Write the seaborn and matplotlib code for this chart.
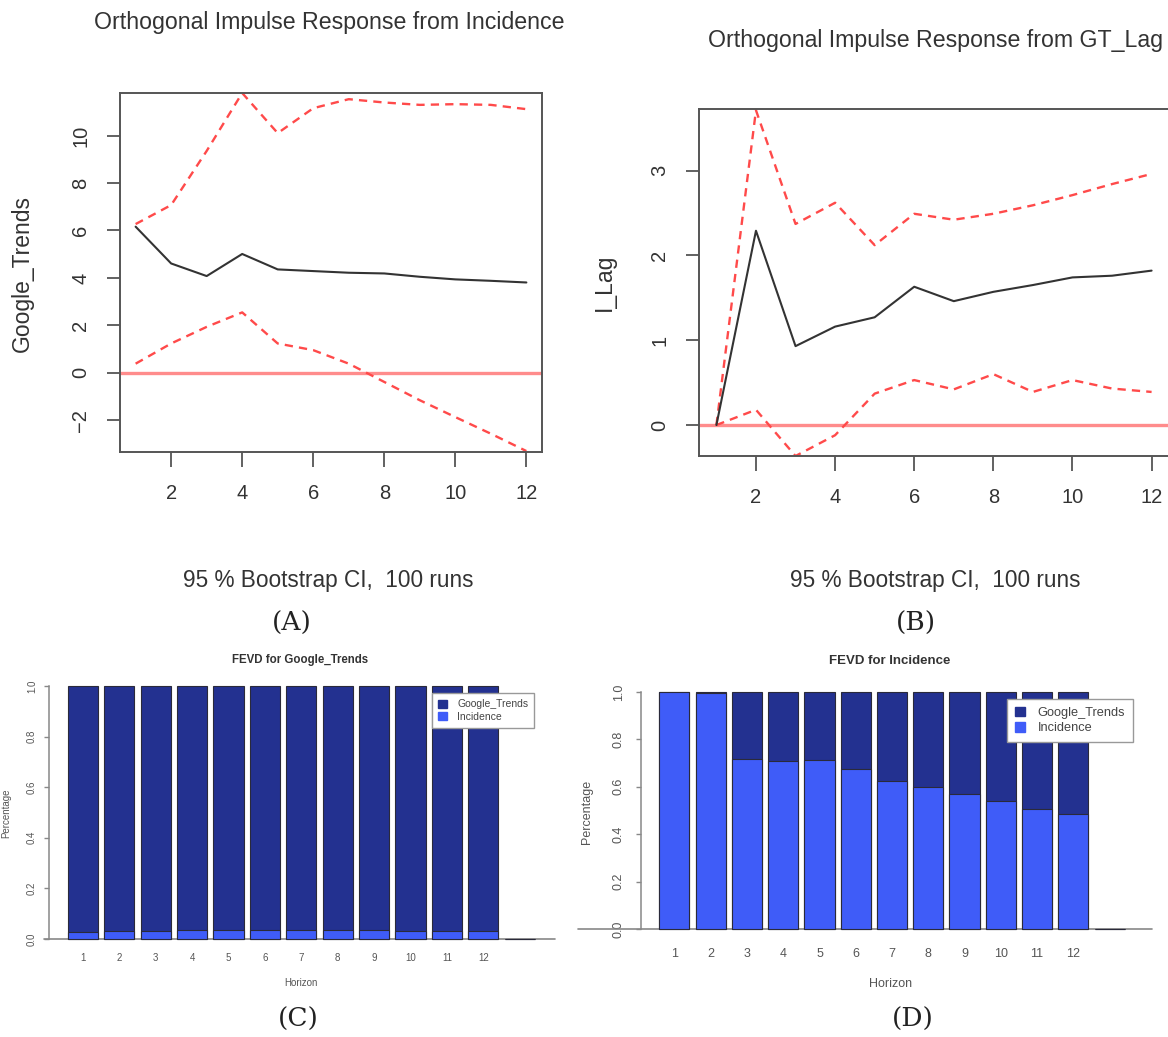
import numpy as np
import pandas as pd
import matplotlib
matplotlib.use("Agg")
import matplotlib.pyplot as plt
import seaborn as sns
from matplotlib.patches import Patch

# ---------------- data ----------------
horizon = [1, 2, 3, 4, 5, 6, 7, 8, 9, 10, 11, 12]

irf_a_mid = [6.16, 4.61, 4.08, 5.01, 4.36, 4.29, 4.22, 4.19, 4.05, 3.94, 3.88, 3.81]
irf_a_upper = [6.27, 7.07, 9.35, 11.79, 10.10, 11.15, 11.53, 11.39, 11.29, 11.32, 11.29, 11.11]
irf_a_lower = [0.39, 1.24, 1.94, 2.55, 1.24, 0.96, 0.39, -0.38, -1.15, -1.86, -2.56, -3.29]

irf_b_mid = [0.0, 2.29, 0.93, 1.16, 1.27, 1.63, 1.46, 1.57, 1.65, 1.74, 1.76, 1.82]
irf_b_upper = [0.0, 3.71, 2.37, 2.62, 2.12, 2.49, 2.42, 2.49, 2.59, 2.71, 2.84, 2.96]
irf_b_lower = [0.0, 0.18, -0.365, -0.12, 0.37, 0.53, 0.42, 0.60, 0.39, 0.53, 0.43, 0.39]

fevd_labels = ["1", "2", "3", "4", "5", "6", "7", "8", "9", "10", "11", "12"]
legend_slot = [""]          # empty 13th slot R leaves for the legend
fevd_c_incidence = [0.028, 0.031, 0.033, 0.035, 0.035, 0.035, 0.035, 0.034, 0.034, 0.033, 0.032, 0.032]
fevd_c_google = [0.972, 0.969, 0.967, 0.965, 0.965, 0.965, 0.965, 0.966, 0.966, 0.967, 0.968, 0.968]
fevd_d_incidence = [1.0, 0.996, 0.716, 0.707, 0.712, 0.674, 0.623, 0.599, 0.571, 0.539, 0.508, 0.484]
fevd_d_google = [0.0, 0.004, 0.284, 0.293, 0.288, 0.326, 0.377, 0.401, 0.429, 0.461, 0.492, 0.516]

series_names = ["Google_Trends", "Incidence"]

# ---------------- style ----------------
sns.set_style("white")
plt.rcParams["font.family"] = ["Liberation Sans", "DejaVu Sans"]

W, H = 1168, 1037
fig = plt.figure(figsize=(W / 100, H / 100), dpi=100)


def add_ax(L, T, R, B):
    return fig.add_axes([L / W, 1 - B / H, (R - L) / W, (B - T) / H])


def ftext(x, y, s, **kw):
    fig.text(x / W, 1 - y / H, s, ha="center", va="center", **kw)


DARK = "#233190"
LIGHT = "#3f5cf8"
RED_CI = "#ff4a4a"
RED_ZERO = "#ff8c8c"
BOX = "#555555"
TXT = "#333333"


def irf_panel(ax, mid, up, lo, ylim, yticks):
    df = pd.DataFrame({"h": horizon, "mid": mid, "up": up, "lo": lo})
    ax.axhline(0, color=RED_ZERO, lw=2.4, zorder=1)
    sns.lineplot(data=df, x="h", y="up", ax=ax, color=RED_CI, lw=1.7, zorder=2)
    ax.lines[-1].set_dashes((3.5, 2.6))
    sns.lineplot(data=df, x="h", y="lo", ax=ax, color=RED_CI, lw=1.7, zorder=2)
    ax.lines[-1].set_dashes((3.5, 2.6))
    sns.lineplot(data=df, x="h", y="mid", ax=ax, color="#333333", lw=1.5, zorder=3)
    ax.set_xlim(0.56, 12.44)
    ax.set_ylim(*ylim)
    ax.set_xticks([2, 4, 6, 8, 10, 12])
    ax.set_yticks(yticks)
    ax.set_xlabel("")
    ax.set_ylabel("")
    for sp in ax.spines.values():
        sp.set_color(BOX)
        sp.set_linewidth(1.4)
    ax.tick_params(axis="x", direction="out", length=11, width=1.3, color=BOX,
                   labelsize=14.5, labelcolor=TXT, pad=12, bottom=True)
    ax.tick_params(axis="y", direction="out", length=9.5, width=1.3, color=BOX,
                   labelsize=14.5, labelcolor=TXT, pad=12, left=True)
    for lab in ax.get_yticklabels():
        lab.set_rotation(90)
        lab.set_va("center")


# ---------- Panel A ----------
axA = add_ax(120, 93, 542, 452)
irf_panel(axA, irf_a_mid, irf_a_upper, irf_a_lower, (-3.33, 11.79), [-2, 0, 2, 4, 6, 8, 10])
ftext(329, 23, "Orthogonal Impulse Response from Incidence", fontsize=16.7, color=TXT)
ftext(22, 273, "Google_Trends", fontsize=16.5, color=TXT, rotation=90)
ftext(328, 580, "95 % Bootstrap CI,  100 runs", fontsize=16.3, color=TXT)
ftext(292, 623, "(A)", fontsize=19, family="DejaVu Serif", color="#222222")

# ---------- Panel B ----------
axB = add_ax(699, 109, 1169, 456)
irf_panel(axB, irf_b_mid, irf_b_upper, irf_b_lower, (-0.365, 3.725), [0, 1, 2, 3])
ftext(935, 40, "Orthogonal Impulse Response from GT_Lag", fontsize=16.7, color=TXT)
ftext(604, 282, "I_Lag", fontsize=16.5, color=TXT, rotation=90)
ftext(935, 580, "95 % Bootstrap CI,  100 runs", fontsize=16.3, color=TXT)
ftext(916, 623, "(B)", fontsize=19, family="DejaVu Serif", color="#222222")


# ---------- FEVD panels ----------
def fevd_panel(ax, inc, gt, xlim, fs, tick_pad, ytick_pad, line_x, leg_anchor, leg_fs):
    cats = fevd_labels + legend_slot
    total = [a + b for a, b in zip(inc, gt)] + [0.0]
    inc_full = list(inc) + [0.0]
    df = pd.DataFrame({"h": cats, "total": total, "inc": inc_full})
    sns.barplot(data=df, x="h", y="total", order=cats, color=DARK, saturation=1,
                width=0.83, edgecolor="#2a2a3a", linewidth=0.8, ax=ax, zorder=2)
    sns.barplot(data=df, x="h", y="inc", order=cats, color=LIGHT, saturation=1,
                width=0.83, edgecolor="#2a2a3a", linewidth=0.8, ax=ax, zorder=3)
    ax.set_xlim(*xlim)
    ax.set_ylim(-0.04, 1.04)
    ax.axhline(0, xmin=line_x[0], xmax=line_x[1], color="#888888", lw=1.2,
               clip_on=False, zorder=1)
    for s in ["top", "right", "bottom"]:
        ax.spines[s].set_visible(False)
    ax.spines["left"].set_bounds(0, 1)
    ax.spines["left"].set_color("#888888")
    ax.spines["left"].set_linewidth(1.1)
    ax.set_xticks(range(12))
    ax.set_xticklabels(fevd_labels)
    ax.set_yticks([0, 0.2, 0.4, 0.6, 0.8, 1.0])
    ax.set_yticklabels(["0.0", "0.2", "0.4", "0.6", "0.8", "1.0"])
    ax.tick_params(axis="x", length=0, labelsize=fs, labelcolor="#555555", pad=tick_pad)
    ax.tick_params(axis="y", length=3.6, width=1.0, color="#888888", direction="out",
                   labelsize=fs, labelcolor="#555555", pad=ytick_pad, left=True)
    for lab in ax.get_yticklabels():
        lab.set_rotation(90)
        lab.set_va("center")
    ax.set_xlabel("")
    ax.set_ylabel("")
    handles = [Patch(facecolor=DARK, edgecolor=DARK), Patch(facecolor=LIGHT, edgecolor=LIGHT)]
    leg = ax.legend(handles, series_names, loc="upper left", bbox_to_anchor=leg_anchor,
                    fontsize=leg_fs, frameon=True, fancybox=False, framealpha=1,
                    edgecolor="#999999", handlelength=0.8, handleheight=0.8,
                    handletextpad=1.0, borderpad=0.6, labelspacing=0.25,
                    borderaxespad=0, labelcolor="#444444")
    leg.get_frame().set_linewidth(1.0)
    leg.set_zorder(5)


# Panel C
axC = add_ax(49, 676, 555, 949)
fevd_panel(axC, fevd_c_incidence, fevd_c_google, (-0.934, 12.97), 7, 3, 5,
           (-0.01, 1.0), (0.757, 0.938), 7.5)
ftext(300, 660, "FEVD for Google_Trends", fontsize=8.3, weight="bold", color="#333333")
ftext(6, 813, "Percentage", fontsize=7, color="#555555", rotation=90)
ftext(301, 983, "Horizon", fontsize=7, color="#555555")
ftext(298, 1019, "(C)", fontsize=19, family="DejaVu Serif", color="#222222")

# Panel D
axD = add_ax(641, 682.5, 1143, 938.5)
fevd_panel(axD, fevd_d_incidence, fevd_d_google, (-0.92, 12.92), 9, 6.5, 8,
           (-0.125, 1.018), (0.729, 0.936), 9.2)
ftext(890, 661, "FEVD for Incidence", fontsize=9.5, weight="bold", color="#333333")
ftext(587, 812, "Percentage", fontsize=9, color="#555555", rotation=90)
ftext(891, 984, "Horizon", fontsize=9, color="#555555")
ftext(913, 1019, "(D)", fontsize=19, family="DejaVu Serif", color="#222222")

fig.savefig("out.png", dpi=100)
